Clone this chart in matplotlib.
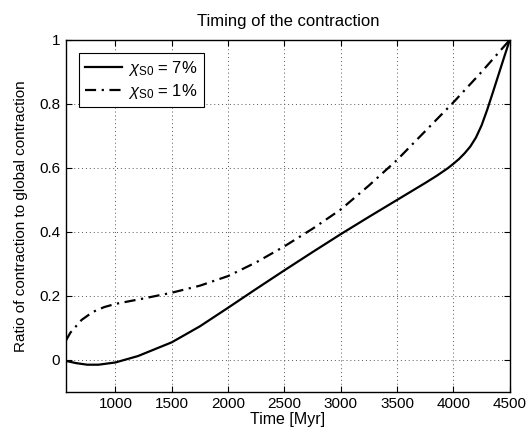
import matplotlib
matplotlib.use('Agg')
import matplotlib.pyplot as plt

plt.rcParams['font.family'] = ['Liberation Sans', 'DejaVu Sans']
plt.rcParams['mathtext.fontset'] = 'custom'
plt.rcParams['mathtext.rm'] = 'Liberation Sans'
plt.rcParams['mathtext.it'] = 'Liberation Sans:italic'

# values
time_7 = [560, 650, 750, 850, 1000, 1200, 1500, 1750, 2000, 2250, 2500, 2750, 3000,
          3250, 3500, 3750, 3850, 3950, 4000, 4050, 4100, 4150, 4200, 4250, 4300,
          4350, 4400, 4450, 4500]
ratio_7 = [-0.003, -0.010, -0.015, -0.015, -0.008, 0.012, 0.055, 0.105, 0.163, 0.222,
           0.280, 0.337, 0.393, 0.447, 0.500, 0.553, 0.575, 0.599, 0.613, 0.628,
           0.646, 0.667, 0.695, 0.733, 0.782, 0.836, 0.891, 0.946, 1.0]

time_1 = [560, 600, 700, 800, 900, 1000, 1250, 1500, 1750, 2000, 2250, 2500, 2750,
          3000, 3250, 3500, 3750, 4000, 4250, 4500]
ratio_1 = [0.06, 0.085, 0.125, 0.150, 0.165, 0.175, 0.192, 0.210, 0.232, 0.262,
           0.305, 0.355, 0.410, 0.470, 0.545, 0.625, 0.715, 0.805, 0.900, 1.0]

x_ticks = [1000, 1500, 2000, 2500, 3000, 3500, 4000, 4500]
y_ticks = [0, 0.2, 0.4, 0.6, 0.8, 1]

fig = plt.figure(figsize=(5.31, 4.34), dpi=100)
ax = fig.add_axes([0.124, 0.097, 0.836, 0.811])

ax.plot(time_7, ratio_7, color='black', linewidth=1.6, label=r'$\chi_{\mathrm{S0}}$ = 7%')
ax.plot(time_1, ratio_1, color='black', linewidth=1.6, dashes=(5, 2.5, 1, 2.5),
        label=r'$\chi_{\mathrm{S0}}$ = 1%')

ax.set_xlim(560, 4500)
ax.set_ylim(-0.1, 1)
ax.set_xticks(x_ticks)
ax.set_yticks(y_ticks)
ax.set_yticklabels(['0', '0.2', '0.4', '0.6', '0.8', '1'])
ax.tick_params(direction='in', top=True, right=True, labelsize=11, length=4, pad=4)
ax.grid(True, linestyle=(0, (1, 3)), color='#555555', linewidth=0.7)
for s in ax.spines.values():
    s.set_linewidth(1.0)

ax.set_title('Timing of the contraction', fontsize=12, pad=10)
ax.set_xlabel('Time [Myr]', fontsize=11.5, labelpad=0.5)
ax.set_ylabel('Ratio of contraction to global contraction', fontsize=11, labelpad=8)

leg = ax.legend(loc='upper left', fontsize=12, fancybox=False, framealpha=1,
                edgecolor='black', handlelength=2.2, handletextpad=0.4,
                labelspacing=0.25, borderpad=0.35, borderaxespad=0.8)
leg.get_frame().set_linewidth(0.8)

fig.savefig('out.png', dpi=100)
